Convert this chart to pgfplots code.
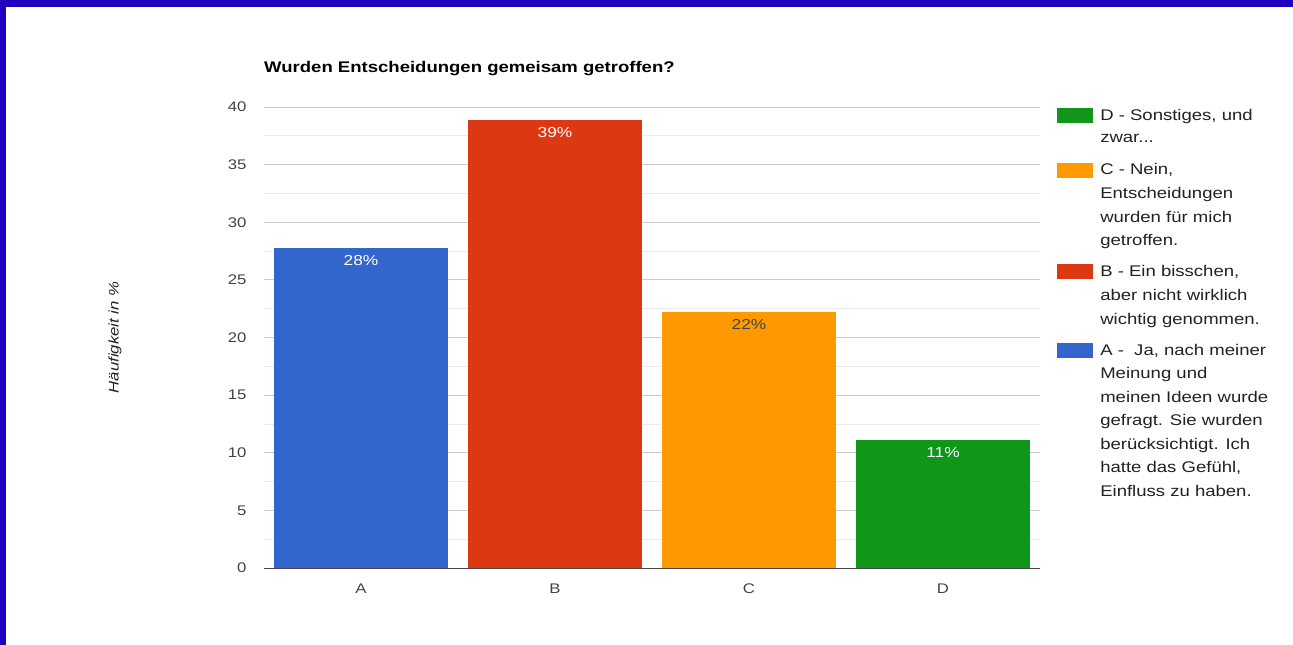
\documentclass[border=0pt]{standalone}
\usepackage{fontspec}
\setmainfont{Liberation Sans}[FakeStretch=1.2]
\usepackage{pgfplots}
\pgfplotsset{compat=1.18}
\definecolor{frameblue}{HTML}{2200C0}
\definecolor{gA}{HTML}{3366CC}
\definecolor{gB}{HTML}{DC3912}
\definecolor{gC}{HTML}{FF9900}
\definecolor{gD}{HTML}{109618}
\definecolor{txt}{HTML}{222222}
\definecolor{tick}{HTML}{444444}
\pgfplotsset{
  cont/.style={legend image code/.code={\path[draw=none,fill=none] (0bp,-7.2bp) rectangle (43bp,16.3bp);}},
  firstsw/.style={legend image code/.code={\path[draw=none,fill=none] (0bp,-7.2bp) rectangle (43bp,16.3bp);\fill[##1,draw=none] (0bp,-7.5bp) rectangle (36bp,7.5bp);}},
  nextsw/.style={legend image code/.code={\path[draw=none,fill=none] (0bp,-7.2bp) rectangle (43bp,23.8bp);\fill[##1,draw=none] (0bp,-7.5bp) rectangle (36bp,7.5bp);}},
}
\begin{document}
\begin{tikzpicture}
\fill[white] (0bp,0bp) rectangle (1293bp,645bp);
\fill[frameblue] (0bp,638bp) rectangle (1293bp,645bp);
\fill[frameblue] (0bp,0bp) rectangle (6bp,645bp);
\node[anchor=base west, font=\bfseries\fontsize{15.5}{18}\selectfont, text=black, inner sep=0pt] at (264bp,572bp) {Wurden Entscheidungen gemeisam getroffen?};
\begin{axis}[
  at={(264bp,77bp)}, anchor=south west,
  scale only axis, width=776bp, height=461bp,
  xmin=-0.5, xmax=3.5, ymin=0, ymax=40,
  ytick={0,5,...,40},
  minor y tick num=1,
  xtick={0,1,2,3}, xticklabels={A,B,C,D},
  axis x line*=bottom, axis y line*=left,
  y axis line style={draw=none},
  x axis line style={draw=tick, line width=1pt, -},
  major tick length=0pt, minor tick length=0pt,
  ymajorgrids, yminorgrids,
  major grid style={draw=black!20, line width=0.8pt},
  minor grid style={draw=black!8, line width=0.8pt},
  /pgf/number format/assume math mode=true,
  tick label style={font=\fontsize{14}{16}\selectfont, text=tick},
  yticklabel style={xshift=-14bp},
  xticklabel style={yshift=-12bp},
  ylabel={\textit{Häufigkeit in \%}},
  ylabel style={at={(axis description cs:-0.192,0.5)}, anchor=center, rotate=0, font=\fontsize{14}{16}\selectfont, text=txt},
  ybar, bar width=0.897,
  point meta=explicit symbolic,
  nodes near coords,
  nodes near coords style={anchor=north, yshift=-4bp, font=\fontsize{14.5}{16}\selectfont},
  legend cell align=left,
  legend style={draw=none, fill=none, at={(1.022,1.0177)}, anchor=north west,
    font=\fontsize{15.5}{24}\selectfont, text=txt,
    row sep=0bp, inner sep=0pt,
    nodes={inner sep=0pt}},
]
\addplot[fill=gD, draw=none, bar shift=0pt, firstsw, every node near coord/.append style={text=white}] coordinates {(3,11.11) [11\%]};
\addlegendentry{D - Sonstiges, und}
\addlegendimage{cont}\addlegendentry{zwar...}
\addplot[fill=gC, draw=none, bar shift=0pt, nextsw, every node near coord/.append style={text=tick}] coordinates {(2,22.22) [22\%]};
\addlegendentry{C - Nein,}
\addlegendimage{cont}\addlegendentry{Entscheidungen}
\addlegendimage{cont}\addlegendentry{wurden für mich}
\addlegendimage{cont}\addlegendentry{getroffen.}
\addplot[fill=gB, draw=none, bar shift=0pt, nextsw, every node near coord/.append style={text=white}] coordinates {(1,38.89) [39\%]};
\addlegendentry{B - Ein bisschen,}
\addlegendimage{cont}\addlegendentry{aber nicht wirklich}
\addlegendimage{cont}\addlegendentry{wichtig genommen.}
\addplot[fill=gA, draw=none, bar shift=0pt, nextsw, every node near coord/.append style={text=white}] coordinates {(0,27.78) [28\%]};
\addlegendentry{A -\ \ Ja, nach meiner}
\addlegendimage{cont}\addlegendentry{Meinung und}
\addlegendimage{cont}\addlegendentry{meinen Ideen wurde}
\addlegendimage{cont}\addlegendentry{gefragt. Sie wurden}
\addlegendimage{cont}\addlegendentry{berücksichtigt. Ich}
\addlegendimage{cont}\addlegendentry{hatte das Gefühl,}
\addlegendimage{cont}\addlegendentry{Einfluss zu haben.}
\end{axis}
\end{tikzpicture}
\end{document}
